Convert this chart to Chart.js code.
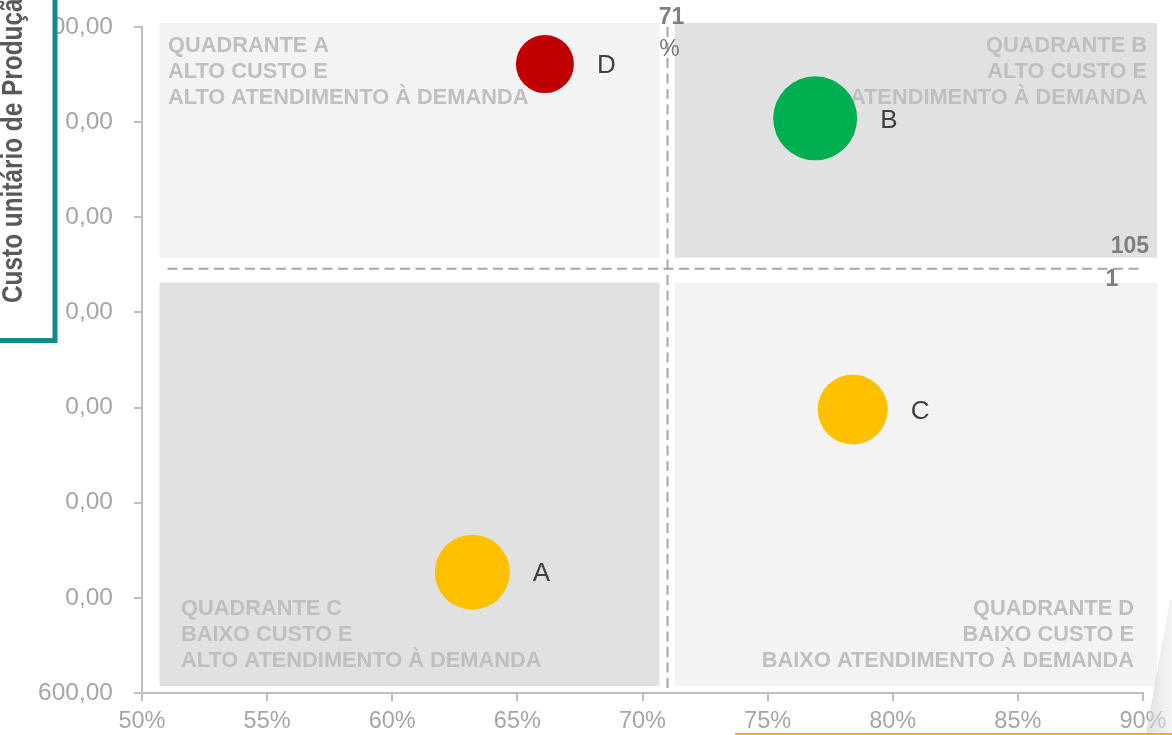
<!DOCTYPE html>
<html>
<head>
<meta charset="utf-8">
<script src="https://cdn.jsdelivr.net/npm/chart.js@4"></script>
<style>
  html, body { margin: 0; padding: 0; background: #fff; }
  #wrap { width: 1172px; height: 735px; position: relative; }
</style>
</head>
<body>
<div id="wrap"><canvas id="quadChart"></canvas></div>
<script>
// data
var categories = ["A", "B", "C", "D"];
var atendimento = [63.2, 76.9, 78.4, 66.1];   // x, % atendimento à demanda
var custo = [727, 1204, 898, 1261];           // y, custo unitário
var tamanho = [37.5, 42, 35, 29];             // bubble radius
var cores = ["#ffc000", "#00b050", "#ffc000", "#c00000"];

var xTickLabels = ["50%", "55%", "60%", "65%", "70%", "75%", "80%", "85%", "90%"];
var yTickLabels = ["600,00", "0,00", "0,00", "0,00", "0,00", "0,00", "0,00", "00,00"];

var corteX = 71;
var corteY = 1046;
var corteXLabel = ["71", "%"];
var corteYLabel = ["105", "1"];

var quadA = ["QUADRANTE A", "ALTO CUSTO E", "ALTO ATENDIMENTO À DEMANDA"];
var quadB = ["QUADRANTE B", "ALTO CUSTO E", "ALTO ATENDIMENTO À DEMANDA"];
var quadC = ["QUADRANTE C", "BAIXO CUSTO E", "ALTO ATENDIMENTO À DEMANDA"];
var quadD = ["QUADRANTE D", "BAIXO CUSTO E", "BAIXO ATENDIMENTO À DEMANDA"];

var tituloY = "Custo unitário de Produção";

var FONT = '"Liberation Sans", Arial, sans-serif';

var points = categories.map(function (c, i) {
  return { x: atendimento[i], y: custo[i], r: tamanho[i] };
});

// quadrant backgrounds, threshold lines and labels
var quadrantPlugin = {
  id: "quadrantes",
  beforeDatasetsDraw: function (chart) {
    var ctx = chart.ctx;
    var a = chart.chartArea;
    var xs = chart.scales.x, ys = chart.scales.y;
    var xT = xs.getPixelForValue(corteX);
    var yT = ys.getPixelForValue(corteY);
    var L = a.left + 17.5, R = a.right + 14, T = a.top - 4, B = a.bottom - 7;

    ctx.save();
    ctx.fillStyle = "#f3f3f3";
    ctx.fillRect(L, T, xT - 8 - L, yT - 11 - T);
    ctx.fillRect(xT + 7, yT + 14, R - xT - 7, B - yT - 14);
    ctx.fillStyle = "#e1e1e1";
    ctx.fillRect(xT + 7, T, R - xT - 7, yT - 11 - T);
    ctx.fillRect(L, yT + 14, xT - 8 - L, B - yT - 14);

    ctx.font = "bold 21.8px " + FONT;
    ctx.fillStyle = "#bfbfbf";
    ctx.textBaseline = "middle";
    var lh = 26;
    ctx.textAlign = "left";
    quadA.forEach(function (t, i) { ctx.fillText(t, 168, 46 + i * lh); });
    quadC.forEach(function (t, i) { ctx.fillText(t, 181, 609 + i * lh); });
    ctx.textAlign = "right";
    quadB.forEach(function (t, i) { ctx.fillText(t, 1147, 46 + i * lh); });
    quadD.forEach(function (t, i) { ctx.fillText(t, 1134, 609 + i * lh); });

    // dashed threshold lines
    ctx.strokeStyle = "#a6a6a6";
    ctx.lineWidth = 2;
    ctx.setLineDash([10, 5.5]);
    ctx.beginPath();
    ctx.moveTo(xT, a.top);
    ctx.lineTo(xT, a.bottom);
    ctx.stroke();
    ctx.beginPath();
    ctx.moveTo(a.left + 25.5, yT);
    ctx.lineTo(a.right, yT);
    ctx.stroke();
    ctx.restore();
  },
  afterDatasetsDraw: function (chart) {
    var ctx = chart.ctx;
    var xs = chart.scales.x, ys = chart.scales.y;
    var meta = chart.getDatasetMeta(0);
    ctx.save();
    ctx.font = "26px " + FONT;
    ctx.fillStyle = "#404040";
    ctx.textAlign = "left";
    ctx.textBaseline = "middle";
    meta.data.forEach(function (el, i) {
      ctx.fillText(categories[i], el.x + tamanho[i] + 23, el.y + 2);
    });

    var xT = xs.getPixelForValue(corteX);
    var yT = ys.getPixelForValue(corteY);
    ctx.fillStyle = "#7f7f7f";
    ctx.textAlign = "center";
    ctx.font = "bold 23px " + FONT;
    ctx.fillText(corteXLabel[0], xT + 4, 18);
    ctx.font = "23px " + FONT;
    ctx.fillText(corteXLabel[1], xT + 2, 50);
    ctx.font = "bold 23px " + FONT;
    ctx.textAlign = "right";
    ctx.fillText(corteYLabel[0], 1149, yT - 22);
    ctx.textAlign = "center";
    ctx.fillText(corteYLabel[1], 1112, yT + 11);
    ctx.restore();
  },
  afterDraw: function (chart) {
    var ctx = chart.ctx;
    ctx.save();
    // y-axis title box
    ctx.fillStyle = "#ffffff";
    ctx.fillRect(-10, -10, 65, 350);
    ctx.save();
    ctx.translate(22, 303);
    ctx.rotate(-Math.PI / 2);
    ctx.scale(0.84, 1);
    ctx.font = "bold 29px " + FONT;
    ctx.fillStyle = "#595959";
    ctx.textAlign = "left";
    ctx.textBaseline = "alphabetic";
    ctx.fillText(tituloY, 0, 0);
    ctx.restore();
    ctx.strokeStyle = "#138a8e";
    ctx.lineWidth = 5;
    ctx.strokeRect(-10, -10, 65, 350.5);

    // bottom decorations
    ctx.fillStyle = "#efb122";
    ctx.fillRect(735, 733, 437, 2);
    var g = ctx.createLinearGradient(1146, 0, 1172, 0);
    g.addColorStop(0, "rgba(200,200,200,0.55)");
    g.addColorStop(1, "rgba(240,240,240,0.6)");
    ctx.fillStyle = g;
    ctx.beginPath();
    ctx.moveTo(1170, 600);
    ctx.lineTo(1172, 600);
    ctx.lineTo(1172, 733);
    ctx.lineTo(1146, 733);
    ctx.closePath();
    ctx.fill();
    ctx.restore();
  }
};

var ctx = document.getElementById("quadChart").getContext("2d");

var myChart = new Chart(ctx, {
  type: "bubble",
  data: {
    labels: categories,
    datasets: [
      {
        label: "Custo x Atendimento",
        data: points,
        backgroundColor: cores,
        borderColor: cores,
        borderWidth: 0,
        hoverRadius: 0,
      },
    ],
  },
  options: {
    responsive: true,
    maintainAspectRatio: false,
    animation: false,
    layout: { autoPadding: false, padding: { top: 27, right: 29, bottom: 0, left: 0 } },
    plugins: {
      legend: { display: false },
      tooltip: { enabled: false },
    },
    scales: {
      x: {
        type: "linear",
        min: 50,
        max: 90,
        grid: { drawOnChartArea: false, tickLength: 8, color: "#bfbfbf", lineWidth: 2 },
        border: { color: "#bfbfbf", width: 2 },
        ticks: {
          stepSize: 5,
          color: "#a6a6a6",
          font: { size: 23.5, family: FONT },
          padding: 6,
          callback: function (v, i) { return xTickLabels[i]; },
        },
        afterFit: function (s) {
          s.height = 42;
          s.paddingLeft = 0;
          s.paddingRight = 0;
        },
      },
      y: {
        type: "linear",
        min: 600,
        max: 1300,
        grid: { drawOnChartArea: false, tickLength: 8, color: "#bfbfbf", lineWidth: 2 },
        border: { color: "#bfbfbf", width: 2 },
        ticks: {
          stepSize: 100,
          color: "#a6a6a6",
          font: { size: 24.5, family: FONT },
          padding: 21,
          callback: function (v, i) { return yTickLabels[i]; },
        },
        afterFit: function (s) {
          s.width = 142;
          s.paddingTop = 0;
          s.paddingBottom = 0;
        },
      },
    },
  },
  plugins: [quadrantPlugin],
});
</script>
</body>
</html>
